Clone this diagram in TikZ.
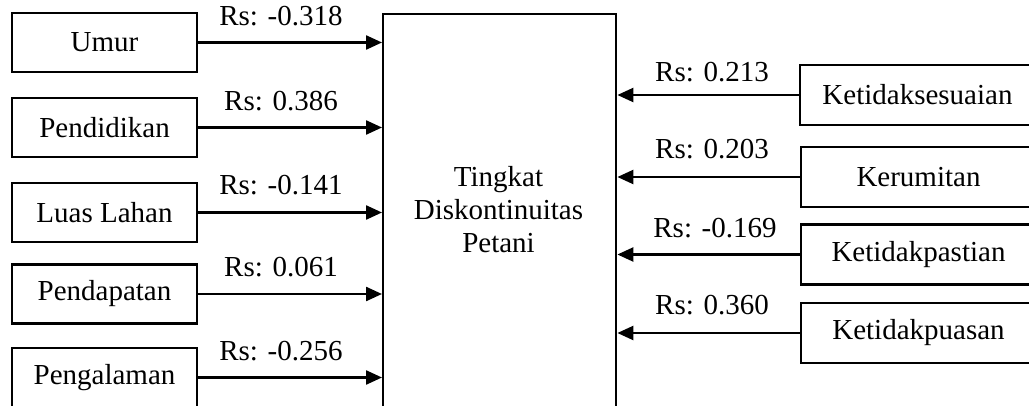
\documentclass[tikz,border=0pt]{standalone}
\usepackage{fontspec}
\setmainfont{Liberation Serif}
\usetikzlibrary{arrows.meta,calc}
\begin{document}
\begin{tikzpicture}[x=1pt,y=-1pt,
  box/.style={draw,line width=2.4pt,inner sep=0pt,minimum width=185pt,minimum height=59pt,font=\fontsize{29}{33}\selectfont},
  rbox/.style={box,minimum width=235pt,minimum height=60pt},
  lbl/.style={anchor=base,inner sep=0pt,font=\fontsize{29}{33}\selectfont},
  arr/.style={line width=2.4pt,-{Triangle[length=16pt,width=14pt]}}]
\useasboundingbox (0,0) rectangle (1029,406);
\clip (0,0) rectangle (1029,406);
% central box
\node[draw,line width=2.4pt,inner sep=0pt,minimum width=233pt,minimum height=500pt,anchor=north west] (c) at (382,13) {};
\node[align=center,inner sep=0pt,font=\fontsize{29}{33}\selectfont] (ct) at (498.5,210) {Tingkat\\Diskontinuitas\\Petani};
% left boxes
\node[box] (a1) at (104.5,42.5) {Umur};
\node[box] (a2) at (104.5,127.5) {Pendidikan};
\node[box] (a3) at (104.5,212.5) {Luas Lahan};
\node[box] (a4) at (104.5,294) {Pendapatan};
\node[box] (a5) at (104.5,377.5) {Pengalaman};
\foreach \i in {1,...,5}{\draw[arr] (a\i.east) -- (a\i.east -| c.west);}
\node[lbl] (la1) at (281,26) {Rs: -0.318};
\node[lbl] (la2) at (281,111) {Rs: 0.386};
\node[lbl] (la3) at (281,195) {Rs: -0.141};
\node[lbl] (la4) at (281,277) {Rs: 0.061};
\node[lbl] (la5) at (281,360) {Rs: -0.256};
% right boxes
\node[rbox] (b1) at (917.5,95) {Ketidaksesuaian};
\node[rbox] (b2) at (918.5,177) {Kerumitan};
\node[rbox] (b3) at (918.5,254.5) {Ketidakpastian};
\node[rbox] (b4) at (918.5,333) {Ketidakpuasan};
\foreach \i in {1,...,4}{\draw[arr] (b\i.west) -- (b\i.west -| c.east);}
\node[lbl] (lb1) at (712,82) {Rs: 0.213};
\node[lbl] (lb2) at (712,159) {Rs: 0.203};
\node[lbl] (lb3) at (715,238) {Rs: -0.169};
\node[lbl] (lb4) at (712,315) {Rs: 0.360};
\end{tikzpicture}
\end{document}
